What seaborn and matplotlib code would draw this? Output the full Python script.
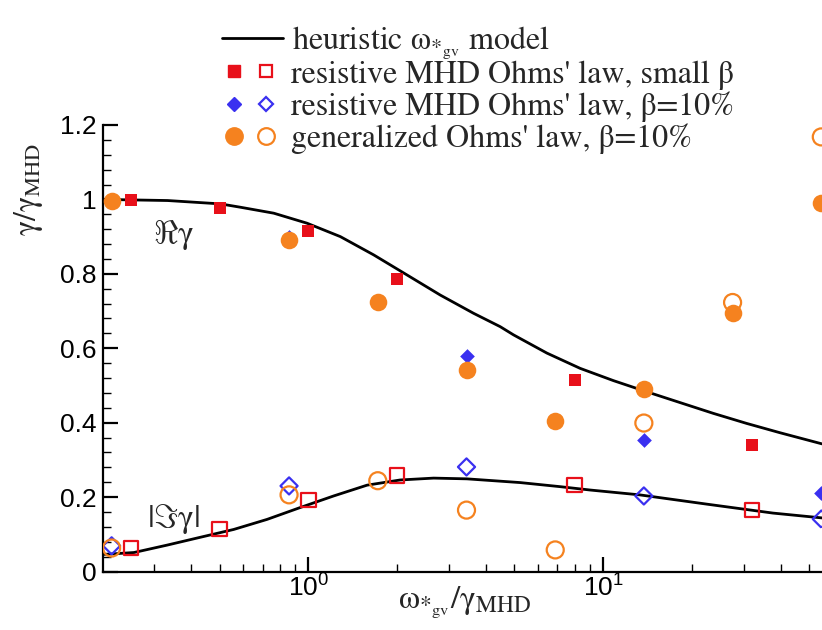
import numpy as np
import pandas as pd
import matplotlib
matplotlib.use("Agg")
import matplotlib.pyplot as plt
import seaborn as sns
from matplotlib.lines import Line2D
from matplotlib.legend_handler import HandlerTuple
from matplotlib.ticker import FixedLocator, FixedFormatter, NullFormatter

# ---------------- data ----------------
# heuristic model curves
model_re_x = [0.201, 0.333, 0.503, 0.588, 0.763, 0.990, 1.284, 1.665, 2.161, 2.802, 3.634,
              4.476, 4.966, 6.446, 8.356, 10.84, 14.07, 18.24, 23.66, 30.69, 39.81, 55.3]
model_re_y = [1.000, 0.997, 0.988, 0.979, 0.963, 0.936, 0.900, 0.851, 0.797, 0.743, 0.694,
              0.658, 0.636, 0.587, 0.546, 0.513, 0.483, 0.454, 0.425, 0.398, 0.373, 0.343]
model_im_x = [0.201, 0.213, 0.256, 0.332, 0.430, 0.558, 0.724, 0.939, 1.218, 1.581, 2.05,
              2.66, 3.45, 5.23, 7.15, 9.03, 13.3, 22.5, 37.7, 55.3]
model_im_y = [0.046, 0.047, 0.051, 0.071, 0.092, 0.113, 0.140, 0.172, 0.203, 0.232, 0.246,
              0.251, 0.249, 0.239, 0.228, 0.219, 0.206, 0.181, 0.157, 0.144]

# resistive MHD, small beta
sq_x = [0.25, 0.5, 1.0, 2.0, 8.0, 32.0]
sq_re = [0.999, 0.977, 0.916, 0.786, 0.515, 0.339]
sq_im = [0.063, 0.114, 0.192, 0.258, 0.233, 0.165]

# resistive MHD, beta = 10%
di_x = [0.215, 0.86, 3.44, 13.75, 55.0]
di_re = [0.997, 0.900, 0.579, 0.354, 0.211]
di_im = [0.069, 0.230, 0.281, 0.203, 0.141]

# generalized Ohm's law, beta = 10%
ci_x = [0.215, 0.86, 1.72, 3.44, 6.88, 13.75, 27.5, 55.0]
ci_re = [0.997, 0.891, 0.723, 0.542, 0.405, 0.490, 0.696, 0.990]
ci_im = [0.063, 0.206, 0.244, 0.165, 0.058, 0.399, 0.723, 1.168]

y_ticks = [0, 0.2, 0.4, 0.6, 0.8, 1.0, 1.2]
y_ticklabels = ["0", "0.2", "0.4", "0.6", "0.8", "1", "1.2"]
x_ticks = [1, 10]
x_ticklabels = [r"$\mathsf{10^{0}}$", r"$\mathsf{10^{1}}$"]

legend_labels = [r"heuristic $\mathrm{\omega_{*_{gv}}}$ model",
                 "resistive MHD Ohms' law, small β",
                 "resistive MHD Ohms' law, β=10%",
                 "generalized Ohms' law, β=10%"]

RED = "#e8101a"
BLUE = "#3a30f0"
ORANGE = "#f5821f"

# ---------------- style ----------------
sns.set_style("ticks")
plt.rcParams["font.family"] = ["Liberation Sans", "DejaVu Sans"]
plt.rcParams["mathtext.fontset"] = "custom"
plt.rcParams["mathtext.rm"] = "STIXGeneral"
plt.rcParams["mathtext.it"] = "STIXGeneral:italic"
plt.rcParams["mathtext.bf"] = "STIXGeneral:bold"
plt.rcParams["mathtext.sf"] = "Liberation Sans"
plt.rcParams["mathtext.cal"] = "STIXGeneral"

W, H = 822, 630
fig = plt.figure(figsize=(W / 100, H / 100), dpi=100)
ax = fig.add_axes([103 / W, 58.5 / H, 719 / W, 446.5 / H])

sns.lineplot(x=model_re_x, y=model_re_y, ax=ax, color="black", lw=2.0, sort=False)
sns.lineplot(x=model_im_x, y=model_im_y, ax=ax, color="black", lw=2.0, sort=False)

S_SQ, S_DI, S_CI = 76, 56, 160
LW_OPEN = 1.6
# filled
sns.scatterplot(x=sq_x, y=sq_re, ax=ax, marker="s", s=S_SQ, color=RED, edgecolor=RED, linewidth=0, zorder=3)
sns.scatterplot(x=di_x, y=di_re, ax=ax, marker="D", s=S_DI, color=BLUE, edgecolor=BLUE, linewidth=0, zorder=3)
sns.scatterplot(x=ci_x, y=ci_re, ax=ax, marker="o", s=S_CI, color=ORANGE, edgecolor=ORANGE, linewidth=0, zorder=4)
# open
sns.scatterplot(x=sq_x, y=sq_im, ax=ax, marker="s", s=S_SQ + 30, color=RED, facecolor="none", edgecolor=RED, linewidth=LW_OPEN, zorder=3)
sns.scatterplot(x=di_x, y=di_im, ax=ax, marker="D", s=S_DI + 20, color=BLUE, facecolor="none", edgecolor=BLUE, linewidth=LW_OPEN, zorder=3)
sns.scatterplot(x=ci_x, y=ci_im, ax=ax, marker="o", s=S_CI - 10, color=ORANGE, facecolor="none", edgecolor=ORANGE, linewidth=LW_OPEN, zorder=4)

ax.set_xscale("log")
ax.set_xlim(0.201, 55.3)
ax.set_ylim(0, 1.2)

sns.despine(ax=ax)
for sp in ("left", "bottom"):
    ax.spines[sp].set_linewidth(1.6)
    ax.spines[sp].set_color("black")

ax.yaxis.set_major_locator(FixedLocator(y_ticks))
ax.yaxis.set_major_formatter(FixedFormatter(y_ticklabels))
ax.yaxis.set_minor_locator(FixedLocator(np.arange(0, 1.2001, 0.04)))
ax.xaxis.set_major_locator(FixedLocator(x_ticks))
ax.xaxis.set_major_formatter(FixedFormatter(x_ticklabels))
minors = [m * 10.0 ** e for e in (-1, 0, 1) for m in range(2, 10)]
ax.xaxis.set_minor_locator(FixedLocator(minors))
ax.xaxis.set_minor_formatter(NullFormatter())

ax.tick_params(which="major", direction="in", length=11, width=1.6, labelsize=19, pad=4.5, colors="black")
ax.tick_params(which="minor", direction="in", length=6, width=1.0, colors="black")
ax.tick_params(axis="x", which="major", pad=2)

ax.set_ylabel(r"$\mathrm{\gamma/\gamma_{MHD}}$", fontsize=23)
ax.yaxis.set_label_coords(-0.08, 0.855)
ax.set_xlabel(r"$\mathrm{\omega_{*_{gv}}/\gamma_{MHD}}$", fontsize=24)
ax.xaxis.set_label_coords(0.503, -0.03)

ax.text(0.348, 0.905, r"$\Re\mathrm{\gamma}$", fontsize=24, ha="center", va="center")
ax.text(0.348, 0.141, r"$|\Im\mathrm{\gamma}|$", fontsize=24, ha="center", va="center")

# legend
FS = 23
h0 = Line2D([], [], color="black", lw=2.0)
h1 = (Line2D([], [], ls="none", marker="s", ms=8.7, color=RED),
      Line2D([], [], ls="none", marker="s", ms=8.7, mfc="none", mec=RED, mew=LW_OPEN))
h2 = (Line2D([], [], ls="none", marker="D", ms=7.5, color=BLUE),
      Line2D([], [], ls="none", marker="D", ms=7.5, mfc="none", mec=BLUE, mew=LW_OPEN))
h3 = (Line2D([], [], ls="none", marker="o", ms=12.5, color=ORANGE),
      Line2D([], [], ls="none", marker="o", ms=12, mfc="none", mec=ORANGE, mew=LW_OPEN))
common = dict(frameon=False, prop={"family": "STIXGeneral", "size": FS},
              handletextpad=0.3, borderaxespad=0, borderpad=0, loc="center left")
fig.legend([h0], legend_labels[:1], bbox_to_anchor=(222 / W, 1 - 43 / H),
           handlelength=1.9, **common)
fig.legend([h1, h2, h3], legend_labels[1:],
           handler_map={tuple: HandlerTuple(ndivide=None, pad=0.0)},
           bbox_to_anchor=(218 / W, 1 - 107 / H),
           handlelength=2.0, labelspacing=0.05, **common)

fig.savefig("out.png", dpi=100)
